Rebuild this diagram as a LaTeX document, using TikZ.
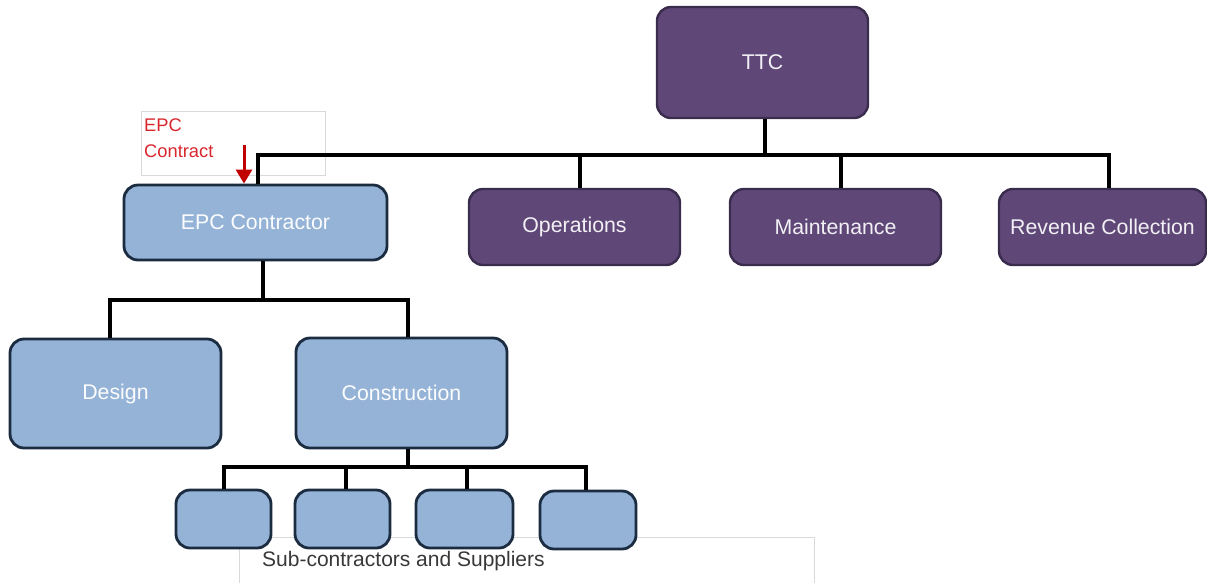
\documentclass[tikz,border=0pt]{standalone}
\usepackage{fontspec}
\setmainfont{Liberation Sans}
\usetikzlibrary{arrows.meta}
\definecolor{purp}{HTML}{5F4878}
\definecolor{purpborder}{HTML}{3A2C4C}
\definecolor{bluefill}{HTML}{95B3D7}
\definecolor{blueborder}{HTML}{1B2B40}
\definecolor{redtxt}{HTML}{C00000}
\definecolor{lbl}{HTML}{D9272E}
\tikzset{
  pbox/.style={draw=purpborder, fill=purp, line width=2.4pt, rounded corners=14pt,
    text=white!92!purp, font=\fontsize{21.3}{25}\selectfont, inner sep=0pt},
  bbox/.style={draw=blueborder, fill=bluefill, line width=2.8pt, rounded corners=14pt,
    text=white!96!bluefill, font=\fontsize{21.3}{25}\selectfont, inner sep=0pt},
  conn/.style={line width=3.6pt, black},
  thinbox/.style={draw=black!15, line width=0.8pt}
}
\begin{document}
\begin{tikzpicture}[x=1pt,y=-1pt]
\useasboundingbox (0,0) rectangle (1207,582);
% sub-contractors label box
\node[thinbox, minimum width=575pt, minimum height=60pt, anchor=north west, inner sep=0pt] (subbox) at (239,537) {};
\node[anchor=west, text=black!78, font=\fontsize{21}{24}\selectfont, inner sep=0pt] (subtxt) at (262,561) {Sub-contractors and Suppliers};
% EPC contract label box
\node[thinbox, minimum width=184pt, minimum height=64pt, anchor=north west, inner sep=0pt] (lblbox) at (141,111) {};
\node[anchor=north west, align=left, text=lbl, font=\fontsize{18.3}{26}\selectfont, inner sep=0pt] (lbltxt) at (144,119) {EPC\\Contract};
% nodes
\node[pbox, minimum width=211pt, minimum height=111pt] (ttc) at (762.5,62.5) {TTC};
\node[bbox, minimum width=263pt, minimum height=75pt] (epc) at (255.5,222.5) {EPC Contractor};
\node[pbox, minimum width=211pt, minimum height=76pt] (ops) at (574.5,227) {Operations};
\node[pbox, minimum width=211pt, minimum height=76pt] (mnt) at (835.5,227) {Maintenance};
\node[pbox, minimum width=207pt, minimum height=76pt] (rev) at (1102.5,227) {Revenue Collection};
\node[bbox, minimum width=211pt, minimum height=109pt] (des) at (115.5,393.5) {Design};
\node[bbox, minimum width=211pt, minimum height=110pt] (con) at (401.5,393) {Construction};
\node[bbox, minimum width=95pt, minimum height=58pt] (s1) at (223.5,519) {};
\node[bbox, minimum width=95pt, minimum height=58pt] (s2) at (342.5,519) {};
\node[bbox, minimum width=97pt, minimum height=58pt] (s3) at (464.5,519) {};
\node[bbox, minimum width=96pt, minimum height=58pt] (s4) at (588,520) {};
% bus coordinates
\coordinate (tb) at (0,155);
\coordinate (mb) at (0,300);
\coordinate (lb) at (0,467);
\coordinate (e1) at (258,0);
\coordinate (o1) at (580,0);
\coordinate (m1) at (841,0);
\coordinate (r1) at (1109,0);
\coordinate (t1) at (765,0);
% top connectors
\draw[conn] (epc.north -| e1) -- (e1 |- tb) -- (r1 |- tb) -- (rev.north -| r1);
\draw[conn] (ttc.south -| t1) -- (t1 |- tb);
\draw[conn] (ops.north -| o1) -- (o1 |- tb);
\draw[conn] (mnt.north -| m1) -- (m1 |- tb);
% middle connectors
\coordinate (ec) at (263,0);
\coordinate (dc) at (110,0);
\coordinate (cc) at (408,0);
\draw[conn] (epc.south -| ec) -- (ec |- mb);
\draw[conn] (des.north -| dc) -- (dc |- mb) -- (cc |- mb) -- (con.north -| cc);
% lower connectors
\coordinate (x1) at (224,0);
\coordinate (x2) at (346,0);
\coordinate (x3) at (467,0);
\coordinate (x4) at (586,0);
\draw[conn] (con.south -| cc) -- (cc |- lb);
\draw[conn] (s1.north -| x1) -- (x1 |- lb) -- (x4 |- lb) -- (s4.north -| x4);
\draw[conn] (s2.north -| x2) -- (x2 |- lb);
\draw[conn] (s3.north -| x3) -- (x3 |- lb);
% red arrow
\coordinate (ar) at (244,145);
\draw[redtxt, line width=3pt, -{Triangle[length=14pt,width=16pt]}] (ar) -- (epc.north -| ar);
\end{tikzpicture}
\end{document}
